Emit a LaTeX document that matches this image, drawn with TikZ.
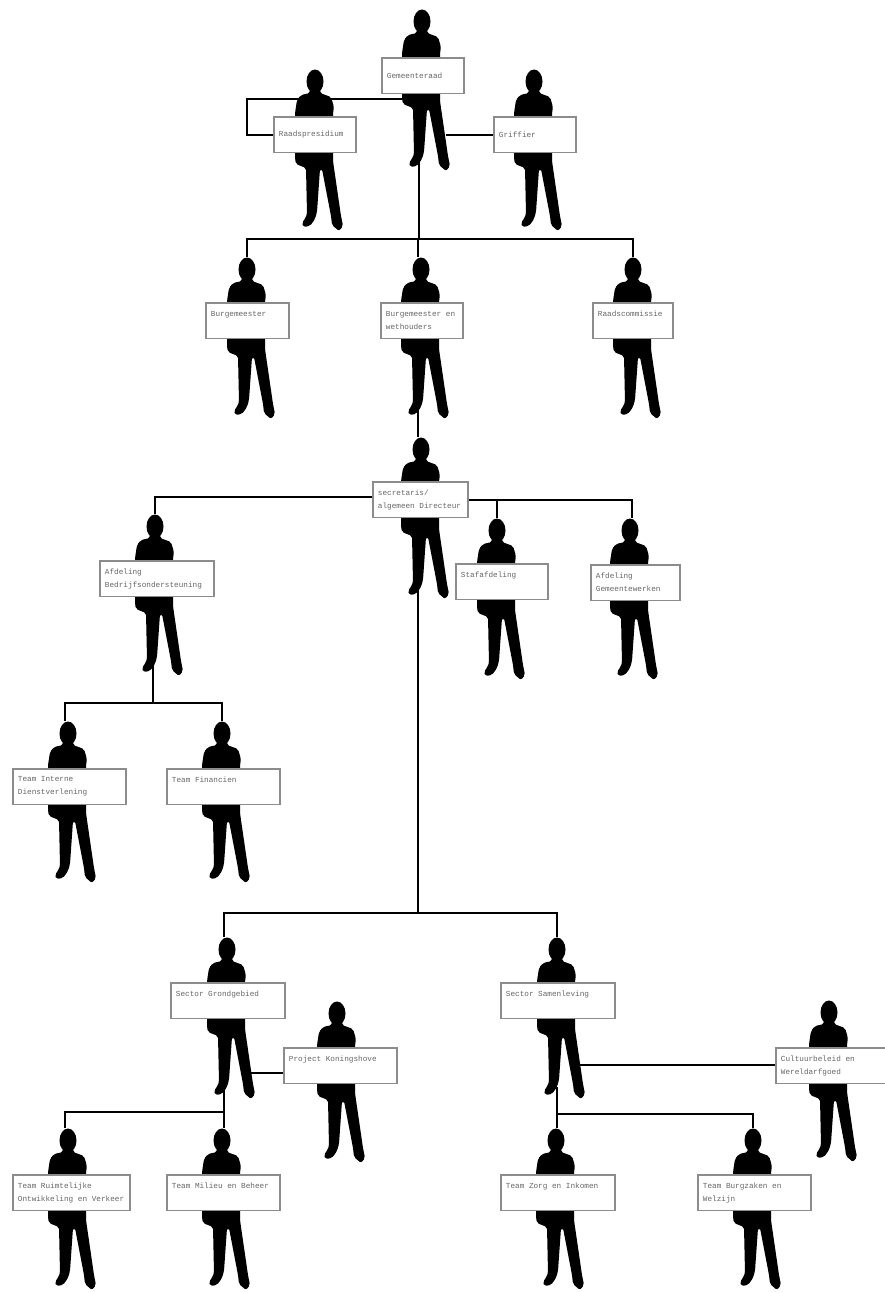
\documentclass[tikz,border=0pt]{standalone}
\usepackage{fontspec}
\setmonofont{Liberation Mono}
\usetikzlibrary{positioning}

\tikzset{
  lijn/.style={draw=black, line width=2pt},
  kaart/.style={draw=black!45, line width=1.8pt, fill=white, anchor=north west, inner xsep=5pt, inner ysep=0pt,
    text=black!60, align=flush left, font=\ttfamily\fontsize{7.7}{13}\selectfont,
    text width=#1-10pt, minimum width=#1, minimum height=35.5pt},
  silhouet/.pic={
    \fill[black] (0,12.5) ellipse [x radius=8.5, y radius=12];
    \fill[black, rounded corners=2pt] (-5,18) -- (-5,24) -- (-14,26) -- (-18,31) -- (-20,44) -- (-20,90)
      -- (-19,95) -- (-9,99) -- (-8,145) -- (-9,148) -- (-13,154) -- (-12,158) -- (-5,157) -- (0,150) -- (2,143)
      -- (5,100) -- (7,100) -- (16,147) -- (17,156) -- (24,162) -- (28,157) -- (26,147) -- (18,92) -- (18,44)
      -- (19,38) -- (16,28) -- (5,24) -- (5,18) -- cycle;
    \coordinate (-top) at (0,0);
    \coordinate (-drop) at (-3,0);
    \coordinate (-feet) at (-3,150);
  }
}

\begin{document}
\begin{tikzpicture}[x=1pt, y=-1pt]
  \useasboundingbox (0,0) rectangle (884,1293);

  % figures
  \pic (raad) at (422,9) {silhouet};
  \pic (presidium) at (315,69) {silhouet};
  \pic (griffier) at (534,69) {silhouet};
  \pic (burgemeester) at (247,257) {silhouet};
  \pic (wethouders) at (421,257) {silhouet};
  \pic (commissie) at (633,257) {silhouet};
  \pic (directie) at (421,437) {silhouet};
  \pic (bedrijf) at (155,514) {silhouet};
  \pic (staf) at (497,518) {silhouet};
  \pic (gemeente) at (630,518) {silhouet};
  \pic (intern) at (68,721) {silhouet};
  \pic (financien) at (222,721) {silhouet};
  \pic (grond) at (227,937) {silhouet};
  \pic (samen) at (557,937) {silhouet};
  \pic (project) at (337,1001) {silhouet};
  \pic (cultuur) at (829,1000) {silhouet};
  \pic (ruimte) at (68,1128) {silhouet};
  \pic (milieu) at (222,1128) {silhouet};
  \pic (zorg) at (556,1128) {silhouet};
  \pic (burgers) at (753,1128) {silhouet};

  % boxes
  \node[kaart=82] (raadbox) at (381,57) {Gemeenteraad};
  \node[kaart=82] (presidiumbox) at (273,116) {Raadspresidium};
  \node[kaart=82] (griffierbox) at (493,116) {Griffier};
  \node[kaart=83] (burgemeesterbox) at (205,302) {Burgemeester\\~};
  \node[kaart=82] (wethoudersbox) at (380,302) {Burgemeester en\\wethouders};
  \node[kaart=80] (commissiebox) at (592,302) {Raadscommissie\\~};
  \node[kaart=95] (directiebox) at (372,481) {secretaris/\\algemeen Directeur};
  \node[kaart=114] (bedrijfbox) at (99,560) {Afdeling\\Bedrijfsondersteuning};
  \node[kaart=92] (stafbox) at (455,563) {Stafafdeling\\~};
  \node[kaart=89] (gemeentebox) at (590,564) {Afdeling\\Gemeentewerken};
  \node[kaart=113] (internbox) at (12,768) {Team Interne\\Dienstverlening};
  \node[kaart=113] (financienbox) at (166,768) {Team Financien\\~};
  \node[kaart=114] (grondbox) at (170,982) {Sector Grondgebied\\~};
  \node[kaart=114] (samenbox) at (500,982) {Sector Samenleving\\~};
  \node[kaart=113] (projectbox) at (283,1047) {Project Koningshove\\~};
  \node[kaart=112] (cultuurbox) at (775,1047) {Cultuurbeleid en\\Wereldarfgoed};
  \node[kaart=117] (ruimtebox) at (12,1174) {Team Ruimtelijke\\Ontwikkeling en Verkeer};
  \node[kaart=113] (milieubox) at (166,1174) {Team Milieu en Beheer\\~};
  \node[kaart=114] (zorgbox) at (500,1174) {Team Zorg en Inkomen\\~};
  \node[kaart=113] (burgersbox) at (697,1174) {Team Burgzaken en\\Welzijn};

  % junctions
  \coordinate (raadlinks) at (403,99);
  \coordinate (hoek) at (247,99);
  \coordinate (raadrechts) at (446,135);
  \coordinate (balkraad) at (419,239);
  \coordinate (balklinks) at (153,497);
  \coordinate (balkrechts) at (632,500);
  \coordinate (balkbedrijf) at (153,703);
  \coordinate (balksector) at (418,913);
  \coordinate (beenproject) at (250,1073);
  \coordinate (balkgrond) at (224,1112);
  \coordinate (beencultuur) at (580,1065);
  \coordinate (balksamen) at (557,1114);

  % connectors
  \draw[lijn] (raadlinks) -- (hoek) |- (presidiumbox.west);
  \draw[lijn] (raadrechts) -- (griffierbox.west |- raadrechts);
  \draw[lijn] (raad-feet) |- (balkraad);
  \draw[lijn] (burgemeester-top) |- (balkraad) -| (commissie-top);
  \draw[lijn] (wethouders-drop) -- (wethouders-drop |- balkraad);
  \draw[lijn] (wethouders-feet) -- (directie-drop);
  \draw[lijn] (directiebox.west |- balklinks) -| (bedrijf-top);
  \draw[lijn] (directiebox.east |- balkrechts) -- (balkrechts) -- (balkrechts |- gemeente-top);
  \draw[lijn] (staf-top |- balkrechts) -- (staf-top);
  \draw[lijn] (directie-feet) -- (balksector);
  \draw[lijn] (grond-drop) |- (balksector) -| (samen-top);
  \draw[lijn] (bedrijf-feet -| balkbedrijf) -- (balkbedrijf);
  \draw[lijn] (intern-drop) |- (balkbedrijf) -| (financien-top);
  \draw[lijn] (beenproject) -- (projectbox.west |- beenproject);
  \draw[lijn] (grond-feet) -- (grond-feet |- milieu-top);
  \draw[lijn] (ruimte-drop) |- (balkgrond);
  \draw[lijn] (beencultuur) -- (cultuurbox.west |- beencultuur);
  \draw[lijn] (samen-top |- samen-feet) -- (samen-top |- zorg-top);
  \draw[lijn] (balksamen) -| (burgers-top);
\end{tikzpicture}
\end{document}
